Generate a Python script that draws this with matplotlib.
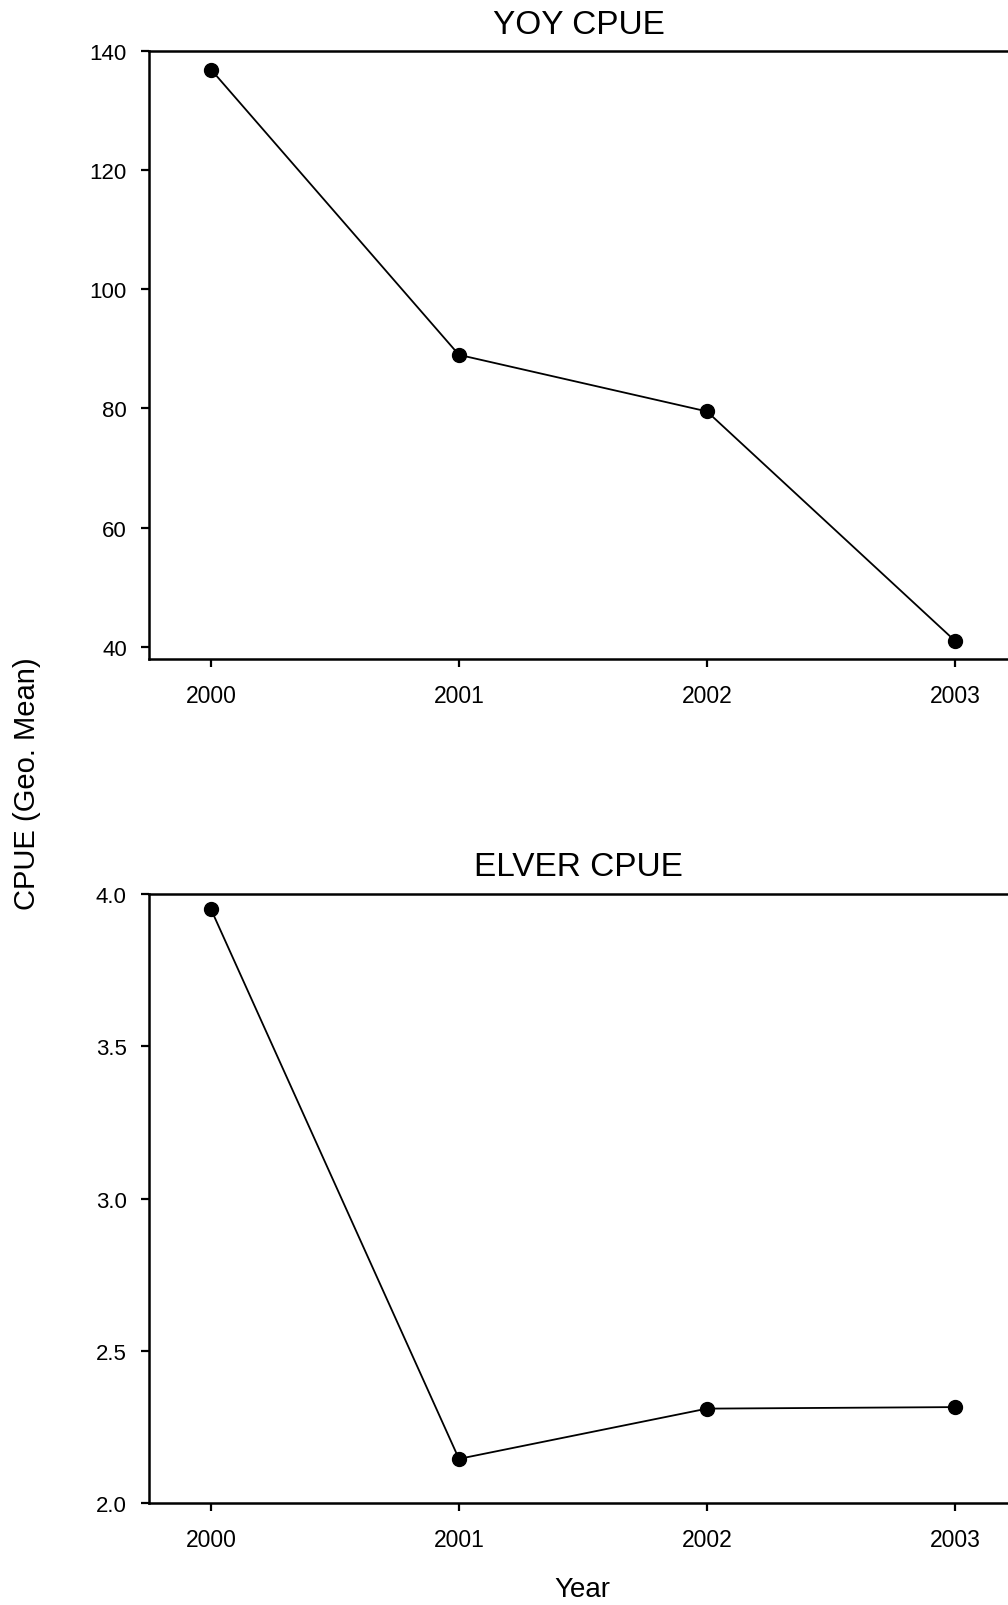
import matplotlib
matplotlib.use('Agg')
import matplotlib.pyplot as plt
from matplotlib.ticker import FormatStrFormatter

plt.rcParams['font.family'] = ['Liberation Sans', 'DejaVu Sans']

# data
years = [2000, 2001, 2002, 2003]
yoy_cpue = [136.9, 89.0, 79.5, 41.0]
elver_cpue = [3.95, 2.145, 2.31, 2.315]

yoy_ticks = [40, 60, 80, 100, 120, 140]
elver_ticks = [2.0, 2.5, 3.0, 3.5, 4.0]

fig = plt.figure(figsize=(10.08, 16.06), dpi=100)
ax1 = fig.add_axes([0.1478, 0.589, 0.8522, 0.3786])
ax2 = fig.add_axes([0.1478, 0.0635, 0.8522, 0.3792])

def style(ax, vals, title, pad):
        ax.plot(years, vals, color='black', lw=1.3, marker='o',
                markersize=10, markerfacecolor='black', markeredgecolor='black')
        ax.set_xlim(1999.75, 2003.214)
        ax.set_xticks(years)
        ax.set_xticklabels([str(y) for y in years])
        ax.spines['right'].set_visible(False)
        for s in ['left', 'top', 'bottom']:
                ax.spines[s].set_linewidth(1.8)
        ax.tick_params(axis='x', direction='out', length=6, width=1.6, pad=12, labelsize=16.5)
        ax.tick_params(axis='y', direction='out', length=6, width=1.6, pad=10, labelsize=16)
        ax.set_title(title, fontsize=24, pad=pad)

style(ax1, yoy_cpue, 'YOY CPUE', 13)
ax1.set_ylim(37.93, 140)
ax1.set_yticks(yoy_ticks)

style(ax2, elver_cpue, 'ELVER CPUE', 14)
ax2.set_ylim(2.0, 4.0)
ax2.set_yticks(elver_ticks)
ax2.yaxis.set_major_formatter(FormatStrFormatter('%.1f'))

fig.text(27 / 1008, 1 - 784 / 1606, 'CPUE (Geo. Mean)', rotation=90,
         ha='center', va='center', fontsize=21)
fig.text(582 / 1008, 1 - 1597 / 1606, 'Year', ha='center', va='baseline', fontsize=20)

fig.savefig('out.png', dpi=100)
